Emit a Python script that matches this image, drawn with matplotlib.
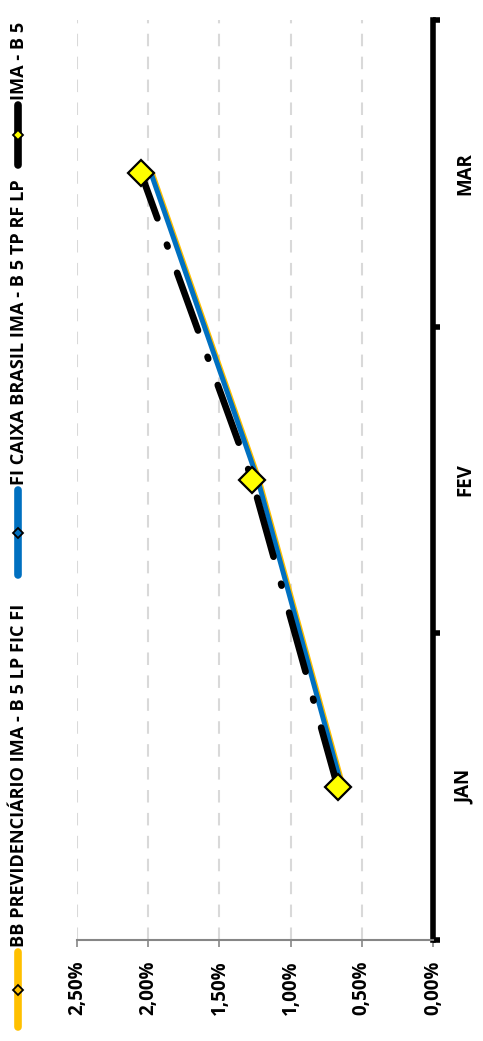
import matplotlib
matplotlib.use("Agg")
import matplotlib.pyplot as plt
from matplotlib.ticker import FixedLocator

plt.rcParams['font.family'] = ['Open Sans', 'DejaVu Sans']
plt.rcParams['font.weight'] = 'bold'

# ---- data ----
months = ["JAN", "FEV", "MAR"]
series_names = ["BB PREVIDENCIÁRIO IMA - B 5 LP FIC FI",
                "FI CAIXA BRASIL IMA - B 5 TP RF LP",
                "IMA - B 5"]
bb_values = [0.63, 1.22, 1.97]      # %
caixa_values = [0.64, 1.23, 1.98]   # %
imab5_values = [0.67, 1.27, 2.05]   # %
value_ticks = [0.0, 0.5, 1.0, 1.5, 2.0, 2.5]
value_tick_labels = ["0,00%", "0,50%", "1,00%", "1,50%", "2,00%", "2,50%"]

GOLD = "#FFC000"
BLUE = "#0070C0"
YELLOW = "#FFFF00"
FS_TICK = 13.5
FS_LEG = 13.1

W, H = 483, 1041
fig = plt.figure(figsize=(W / 100, H / 100), dpi=100)
fig.patch.set_facecolor("white")

# main axes (chart rotated 90 degrees: values horizontal, months vertical)
ax = fig.add_axes([77 / W, (H - 940) / H, (433 - 77) / W, (940 - 20) / H])
pos = list(range(len(months)))

ax.plot(bb_values, pos, color=GOLD, lw=3.6, solid_capstyle='round', zorder=3)
ax.plot(caixa_values, pos, color=BLUE, lw=3.6, solid_capstyle='round', zorder=4)
blk, = ax.plot(imab5_values, pos, color="black", lw=4.8, zorder=5,
               dash_capstyle='round')
blk.set_dashes((9.2, 4.2, 0.3, 4.2))
ax.plot(imab5_values, pos, linestyle='none', marker='D', markersize=13,
        markerfacecolor=YELLOW, markeredgecolor="black", markeredgewidth=1.6,
        zorder=6)

ax.set_xlim(2.5, 0)
ax.set_ylim(-0.5, len(months) - 0.5)

ax.set_xticks(value_ticks)
ax.set_xticklabels(value_tick_labels, rotation=90, fontsize=FS_TICK,
                   fontweight='bold', va='top', ha='center')
ax.tick_params(axis='x', direction='out', length=5, width=1.2,
               color="#868686", pad=10)
ax.xaxis.grid(True, color="#D9D9D9", linestyle=(0, (6, 5)), lw=1.5)
ax.set_axisbelow(True)

ax.yaxis.tick_right()
ax.set_yticks(pos)
ax.set_yticklabels(months, rotation=90, fontsize=FS_TICK, fontweight='bold',
                   va='center', ha='left')
ax.yaxis.set_minor_locator(FixedLocator([p - 0.5 for p in pos] + [pos[-1] + 0.5]))
ax.tick_params(axis='y', which='major', length=0, pad=16)
ax.tick_params(axis='y', which='minor', direction='out', length=5, width=4,
               color="black", right=True, left=False)

for s in ("top", "left"):
    ax.spines[s].set_visible(False)
ax.spines["right"].set_color("black")
ax.spines["right"].set_linewidth(4)
ax.spines["bottom"].set_color("#868686")
ax.spines["bottom"].set_linewidth(1.5)

# ---- legend (rotated, drawn manually) ----
lg = fig.add_axes([0, 0, 1, 1], zorder=-1)
lg.set_xlim(0, W)
lg.set_ylim(H, 0)
lg.axis("off")

legend_items = [
    (series_names[0], GOLD, GOLD, 1027, 952, 947),
    (series_names[1], BLUE, BLUE, 575, 490, 485),
    (series_names[2], "black", YELLOW, 165, 105, 100),
]
for name, lc, mc, y0, y1, ty in legend_items:
    lg.plot([17.5, 17.5], [y0, y1], color=lc, lw=5.5, solid_capstyle='round')
    lg.plot([17.5], [(y0 + y1) / 2], marker='D', markersize=5.5,
            markerfacecolor=mc, markeredgecolor="black", markeredgewidth=1.3)
    lg.text(19, ty, name, rotation=90, ha='center', va='bottom',
            fontsize=FS_LEG, fontweight='bold')

fig.savefig("out.png", dpi=100)
